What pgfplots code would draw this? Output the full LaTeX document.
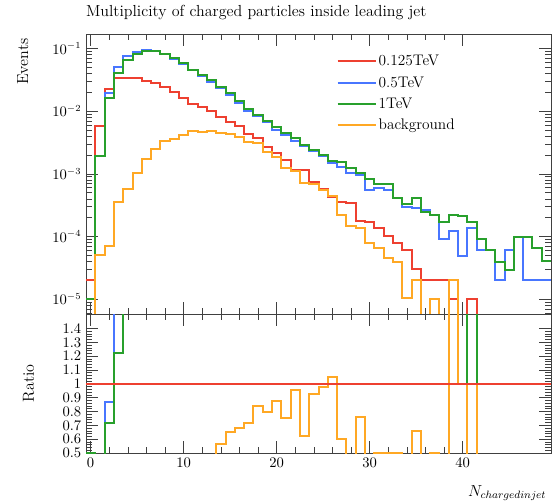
\documentclass[border=0pt]{standalone}
\usepackage{pgfplots}
\usepackage{pgfplotstable}
\pgfplotsset{compat=1.18}

\definecolor{cred}{RGB}{238,64,48}
\definecolor{cblue}{RGB}{72,118,255}
\definecolor{cgreen}{RGB}{40,160,44}
\definecolor{corange}{RGB}{255,168,36}

% bin left edges, one row per bin (last row repeats bin 49 up to the right edge)
\pgfplotstableread{
x     red      blue     green    bkg
-0.5  2.0e-5   1.0e-5   1.0e-5   1e-8
0.5   5.8e-3   1.95e-3  1.95e-3  5.0e-5
1.5   0.0222   0.0193   0.0163   7.0e-5
2.5   0.0335   0.050    0.041    3.6e-4
3.5   0.0342   0.075    0.066    5.7e-4
4.5   0.0335   0.087    0.083    1.02e-3
5.5   0.0305   0.094    0.091    1.73e-3
6.5   0.0278   0.092    0.090    2.5e-3
7.5   0.0245   0.083    0.083    3.3e-3
8.5   0.0200   0.069    0.070    3.6e-3
9.5   0.0160   0.056    0.058    4.2e-3
10.5  0.0132   0.045    0.046    4.8e-3
11.5  0.0118   0.037    0.038    4.6e-3
12.5  0.0100   0.029    0.031    4.8e-3
13.5  0.0082   0.023    0.024    4.5e-3
14.5  0.0068   0.0178   0.0195   4.3e-3
15.5  0.0057   0.0133   0.0143   3.9e-3
16.5  0.0044   0.0101   0.0108   3.2e-3
17.5  0.0037   0.0083   0.0087   3.1e-3
18.5  0.0027   0.0067   0.0070   2.2e-3
19.5  0.00213  0.0050   0.0055   1.87e-3
20.5  0.00167  0.0042   0.0045   1.25e-3
21.5  0.00115  0.0034   0.0037   1.10e-3
22.5  0.00115  0.0028   0.0029   7.1e-4
23.5  0.00075  0.0023   0.0024   7.0e-4
24.5  0.00058  0.0019   0.0020   5.5e-4
25.5  0.00043  0.00147  0.0016   4.4e-4
26.5  0.00036  0.0013   0.00155  2.2e-4
27.5  0.00034  0.00105  0.00125  1.45e-4
28.5  0.000175 0.00095  0.00104  1.35e-4
29.5  0.000173 0.00056  0.00082  7.9e-5
30.5  0.000135 0.00059  0.00068  6.5e-5
31.5  0.000104 0.00056  0.00068  4.6e-5
32.5  7.9e-5   0.00041  0.00041  4.0e-5
33.5  6.2e-5   0.00030  0.00033  1.05e-5
34.5  3.0e-5   0.00029  0.00041  2.0e-5
35.5  2.0e-5   0.000265 0.00025  1e-8
36.5  2.0e-5   0.00022  0.00022  1.0e-5
37.5  2.0e-5   9.1e-5   0.000173 1e-8
38.5  1.0e-5   1.23e-4  0.000225 2.0e-5
39.5  1e-8     4.9e-5   0.00021  1e-8
40.5  1.0e-5   1.35e-4  0.000173 1e-8
41.5  1e-8     6.2e-5   9.0e-5   1e-8
42.5  1e-8     6.2e-5   6.2e-5   1e-8
43.5  1e-8     2.0e-5   4.0e-5   1e-8
44.5  1e-8     6.2e-5   2.9e-5   1e-8
45.5  1e-8     1.0e-4   1.0e-4   1e-8
46.5  1e-8     2.0e-5   1.0e-4   1e-8
47.5  1e-8     2.0e-5   6.7e-5   1e-8
48.5  1e-8     2.0e-5   4.1e-5   1e-8
49.5  1e-8     2.0e-5   4.1e-5   1e-8
}\histtab

% ratio to 0.125TeV (3 = above the panel, 0 = below it)
\pgfplotstableread{
x     rblue  rgreen  rbkg
-0.5  0.5    0.5     0
0.5   0.33   0.33    0
1.5   0.87   0.72    0
2.5   3      1.22    0
3.5   3      3       0
4.5   3      3       0
5.5   3      3       0
6.5   3      3       0
7.5   3      3       0
8.5   3      3       0
9.5   3      3       0
10.5  3      3       0
11.5  3      3       0
12.5  3      3       0
13.5  3      3       0.565
14.5  3      3       0.65
15.5  3      3       0.68
16.5  3      3       0.72
17.5  3      3       0.843
18.5  3      3       0.80
19.5  3      3       0.877
20.5  3      3       0.75
21.5  3      3       0.957
22.5  3      3       0.623
23.5  3      3       0.928
24.5  3      3       0.976
25.5  3      3       1.05
26.5  3      3       0.60
27.5  3      3       0
28.5  3      3       0.763
29.5  3      3       0
30.5  3      3       0.5
31.5  3      3       0.5
32.5  3      3       0.5
33.5  3      3       0
34.5  3      3       0.66
35.5  3      3       0
36.5  3      3       0.5
37.5  3      3       0
38.5  3      3       3
39.5  1      1       1
40.5  3      3       0
41.5  1      1       1
42.5  1      1       1
43.5  1      1       1
44.5  1      1       1
45.5  1      1       1
46.5  1      1       1
47.5  1      1       1
48.5  1      1       1
49.5  1      1       1
}\ratiotab

\pgfplotsset{
  rivet/.style={
    width=348.75pt, scale only axis,
    xmin=-0.5, xmax=49.5,
    xtick={0,10,20,30,40}, minor x tick num=4,
    tick align=inside,
    major tick length=9pt, minor tick length=4.5pt,
    axis line style={black!75, line width=0.6pt},
    every tick/.style={black!75, line width=0.5pt},
    tick label style={font=\fontsize{10.5}{12}\selectfont},
    label style={font=\fontsize{12}{14}\selectfont},
  },
  hist/.style={const plot mark left, no marks, line width=1.5pt},
}

\begin{document}
\begin{tikzpicture}
\begin{axis}[
  rivet, name=main,
  height=210pt,
  ymode=log, ymin=5.83e-6, ymax=0.17,
  xticklabels={},
  ylabel={Events},
  ylabel style={at={(axis description cs:-0.114,1)}, anchor=south east},
  title={Multiplicity of charged particles inside leading jet},
  title style={at={(axis description cs:-0.01,1)}, anchor=south west, yshift=1pt, font=\fontsize{12}{14}\selectfont},
  legend style={draw=none, fill=none, at={(axis description cs:0.53,0.945)}, anchor=north west,
    font=\fontsize{11.5}{13}\selectfont, row sep=2.5pt,
    nodes={inner sep=1pt, text height=9pt, text depth=2.5pt}},
  legend cell align=left,
  legend image code/.code={\draw[#1, line width=1.5pt] (0pt,0pt) -- (29pt,0pt);},
]
\addplot[hist, cred] table[x=x, y=red] {\histtab};
\addlegendentry{0.125TeV}
\addplot[hist, cblue] table[x=x, y=blue] {\histtab};
\addlegendentry{0.5TeV}
\addplot[hist, cgreen] table[x=x, y=green] {\histtab};
\addlegendentry{1TeV}
\addplot[hist, corange] table[x=x, y=bkg] {\histtab};
\addlegendentry{background}
\end{axis}

\begin{axis}[
  rivet, name=ratio,
  at={(main.south west)}, anchor=north west,
  height=104.25pt,
  ymin=0.5, ymax=1.505,
  ytick={0.5,0.6,0.7,0.8,0.9,1,1.1,1.2,1.3,1.4},
  minor y tick num=4,
  ylabel={Ratio},
  ylabel style={at={(axis description cs:-0.101,0.5)}, anchor=south},
  xlabel={$N_{chargedinjet}$},
  xlabel style={at={(axis description cs:1,-0.2)}, anchor=north east},
]
\addplot[hist, cblue] table[x=x, y=rblue] {\ratiotab};
\addplot[hist, cgreen] table[x=x, y=rgreen] {\ratiotab};
\addplot[hist, corange] table[x=x, y=rbkg] {\ratiotab};
\addplot[no marks, cred, line width=1.5pt] coordinates {(-0.5,1) (49.5,1)};
\end{axis}

\pgfresetboundingbox
\path[use as bounding box] ([xshift=-64.5pt,yshift=25.5pt]main.north west)
  rectangle ([xshift=2.25pt,yshift=-35.25pt]ratio.south east);
\end{tikzpicture}
\end{document}
